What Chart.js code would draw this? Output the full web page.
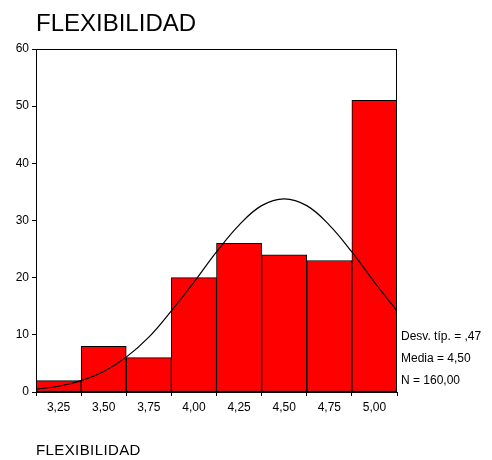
<!DOCTYPE html>
<html>
<head>
<meta charset="utf-8">
<script src="https://cdn.jsdelivr.net/npm/chart.js@4"></script>
<style>
  html, body { margin: 0; padding: 0; background: #fff; }
  #wrap { position: relative; width: 492px; height: 460px; font-family: "Liberation Sans", Arial, sans-serif; color: #000; }
  canvas { position: absolute; left: 0; top: 0; }
  .t { position: absolute; white-space: nowrap; line-height: 1; }
</style>
</head>
<body>
<div id="wrap">
  <canvas id="c" width="492" height="460"></canvas>
  <div class="t" id="title" style="left:36px; top:11px; font-size:24px;">FLEXIBILIDAD</div>
  <div class="t" style="left:401px; top:330px; font-size:12px;">Desv. típ. = ,47</div>
  <div class="t" style="left:401px; top:352px; font-size:12px;">Media = 4,50</div>
  <div class="t" style="left:401px; top:374px; font-size:12px;">N = 160,00</div>
  <div class="t" style="left:36px; top:442px; font-size:15px; letter-spacing:0.4px;">FLEXIBILIDAD</div>
</div>
<script>
// Bin centres and counts
const binCenters = [3.25, 3.50, 3.75, 4.00, 4.25, 4.50, 4.75, 5.00];
const counts     = [2, 8, 6, 20, 26, 24, 23, 51];
// Tick labels for x axis
const xTickValues = [3.25, 3.50, 3.75, 4.00, 4.25, 4.50, 4.75, 5.00];
const xTickLabels = ["3,25", "3,50", "3,75", "4,00", "4,25", "4,50", "4,75", "5,00"];
const yTickValues = [0, 10, 20, 30, 40, 50, 60];
// Normal curve points
const curveX = [3.125, 3.25, 3.375, 3.5, 3.625, 3.75, 3.875, 4.0, 4.125, 4.25, 4.375, 4.5, 4.625, 4.75, 4.875, 5.0, 5.125];
const curveY = [0.5, 1.0, 2.0, 3.6, 6.1, 9.6, 14.2, 19.2, 24.5, 29.2, 32.6, 33.8, 32.6, 29.2, 24.5, 19.2, 14.2];

const barData = binCenters.map((x, i) => ({ x: x, y: counts[i] }));
const lineData = curveX.map((x, i) => ({ x: x, y: curveY[i] }));

const framePlugin = {
  id: 'frame',
  afterDatasetsDraw(chart) {
    const a = chart.chartArea, ctx = chart.ctx;
    ctx.save();
    ctx.strokeStyle = '#000';
    ctx.lineWidth = 1;
    ctx.strokeRect(Math.round(a.left) + 0.5, Math.round(a.top) + 0.5,
                   Math.round(a.right - a.left) - 1, Math.round(a.bottom - a.top) - 1);
    ctx.restore();
  }
};

new Chart(document.getElementById('c'), {
  data: {
    datasets: [
      {
        type: 'line',
        data: lineData,
        borderColor: '#000',
        borderWidth: 1.2,
        pointRadius: 0,
        tension: 0.4,
        fill: false,
        order: 0
      },
      {
        type: 'bar',
        data: barData,
        backgroundColor: '#ff0000',
        borderColor: '#000',
        borderWidth: 1,
        borderSkipped: false,
        barPercentage: 1.0,
        categoryPercentage: 1.0,
        grouped: false,
        order: 1
      }
    ]
  },
  options: {
    responsive: false,
    devicePixelRatio: 1,
    animation: false,
    layout: { padding: { left: 0, top: 49, right: 95, bottom: 38 } },
    plugins: { legend: { display: false }, tooltip: { enabled: false }, title: { display: false } },
    scales: {
      x: {
        type: 'linear',
        min: 3.125,
        max: 5.125,
        offset: false,
        afterFit(s) { s.height = 30; },
        afterBuildTicks(s) { s.ticks = xTickValues.map(v => ({ value: v })); },
        ticks: {
          autoSkip: false,
          maxRotation: 0,
          padding: 4,
          color: '#000',
          font: { family: 'Liberation Sans', size: 12 },
          callback(v) { const i = xTickValues.indexOf(v); return i >= 0 ? xTickLabels[i] : ''; }
        },
        grid: { display: true, drawOnChartArea: false, drawTicks: true, tickLength: 4, color: '#000' },
        border: { display: true, color: '#000', width: 1 }
      },
      y: {
        type: 'linear',
        min: 0,
        max: 60,
        afterFit(s) { s.width = 36; },
        afterBuildTicks(s) { s.ticks = yTickValues.map(v => ({ value: v })); },
        ticks: {
          padding: 3,
          color: '#000',
          font: { family: 'Liberation Sans', size: 12 }
        },
        grid: { display: true, drawOnChartArea: false, drawTicks: true, tickLength: 4, color: '#000' },
        border: { display: true, color: '#000', width: 1 }
      }
    }
  },
  plugins: [framePlugin]
});
</script>
</body>
</html>
